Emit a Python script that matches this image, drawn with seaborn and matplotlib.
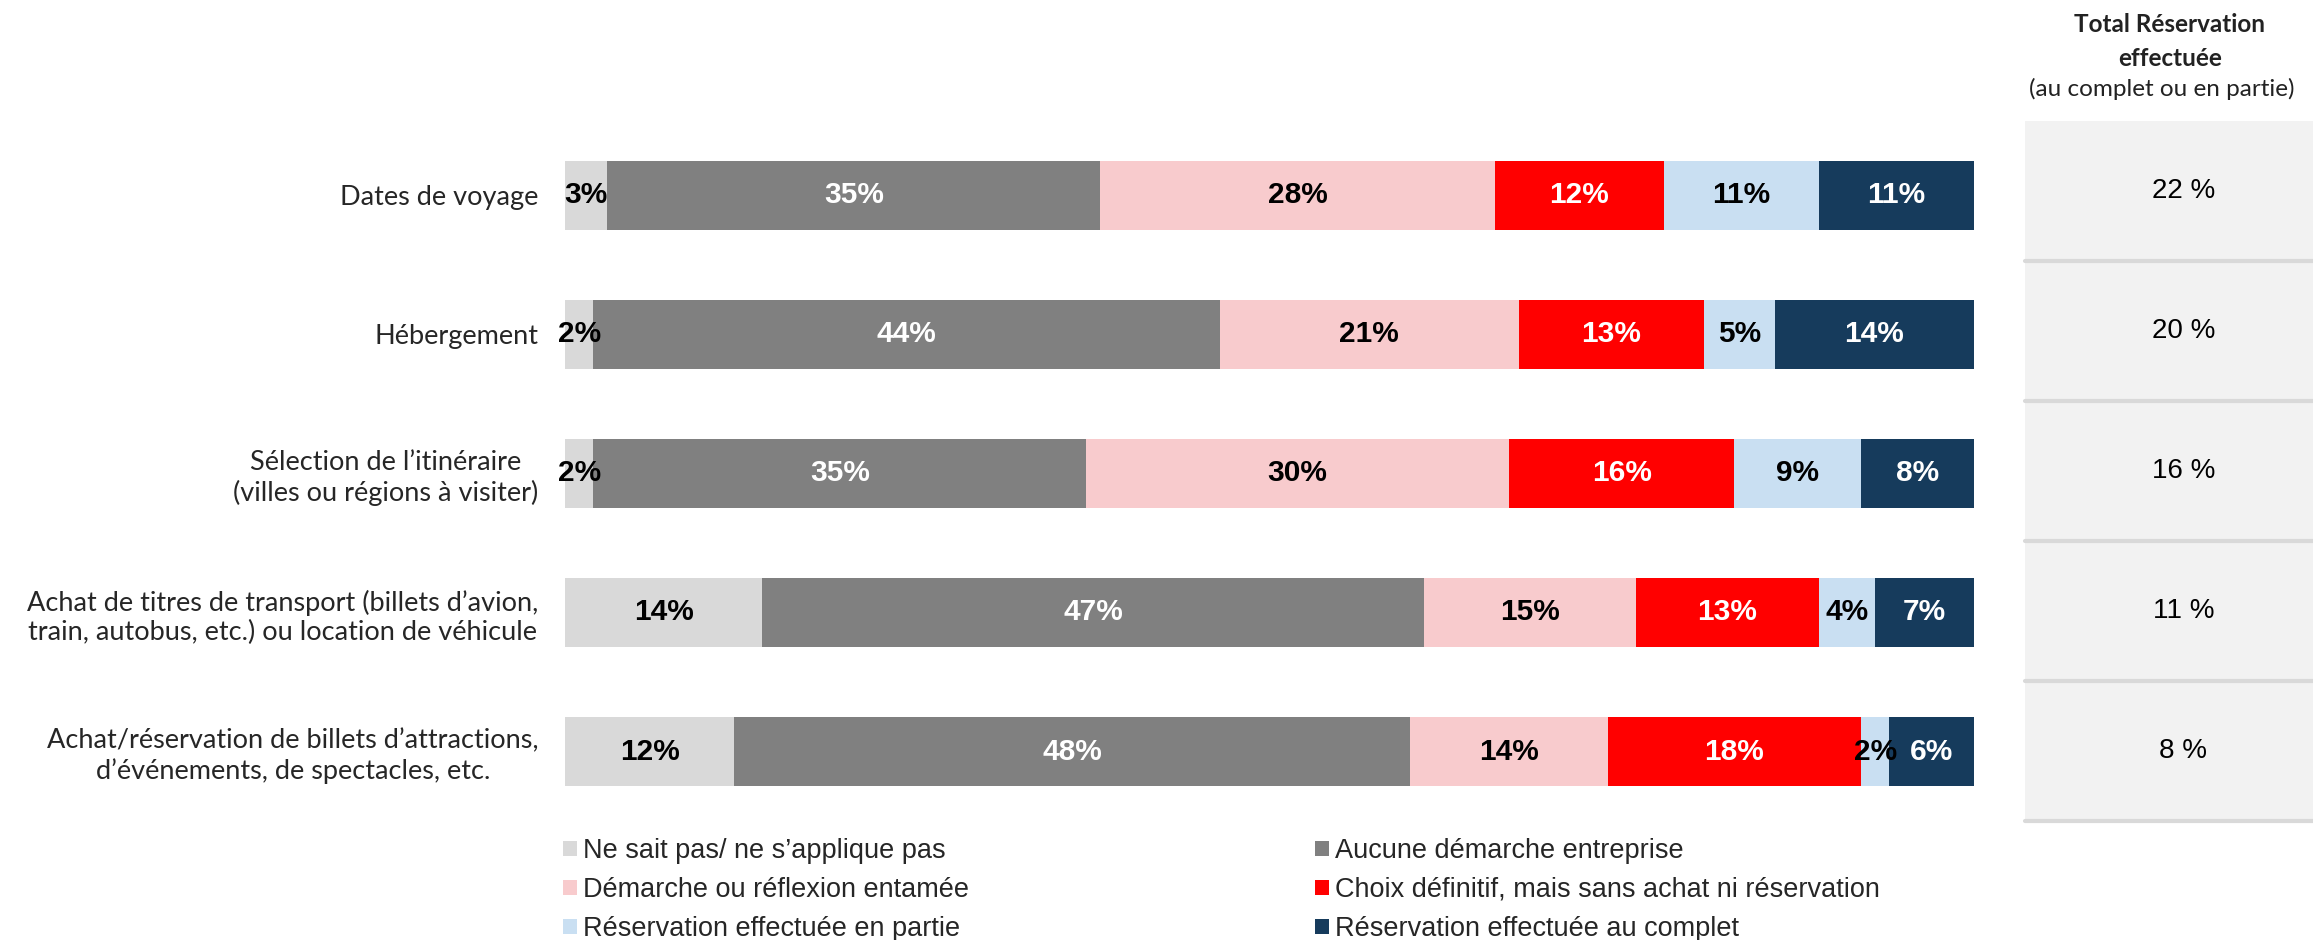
import numpy as np
import pandas as pd
import matplotlib.pyplot as plt
from matplotlib.patches import Patch
import seaborn as sns

# Categories (rows of the stacked bar chart)
categories = [
    "Dates de voyage",
    "Hébergement",
    "Sélection de l’itinéraire\n(villes ou régions à visiter)",
    "Achat de titres de transport (billets d’avion,\ntrain, autobus, etc.) ou location de véhicule",
    "Achat/réservation de billets d’attractions,\nd’événements, de spectacles, etc.",
]

series_names = [
    "Ne sait pas/ ne s’applique pas",
    "Démarche ou réflexion entamée",
    "Réservation effectuée en partie",
    "Aucune démarche entreprise",
    "Choix définitif, mais sans achat ni réservation",
    "Réservation effectuée au complet",
]

# Values (%)
ne_sait_pas = [3, 2, 2, 14, 12]
aucune = [35, 44, 35, 47, 48]
demarche = [28, 21, 30, 15, 14]
choix = [12, 13, 16, 13, 18]
partie = [11, 5, 9, 4, 2]
complet = [11, 14, 8, 7, 6]
total_reservation = [22, 20, 16, 11, 8]

# Stack order from left to right
stack_order = [
    ("Ne sait pas/ ne s’applique pas", ne_sait_pas, "#D9D9D9", "black"),
    ("Aucune démarche entreprise", aucune, "#808080", "white"),
    ("Démarche ou réflexion entamée", demarche, "#F8CBCD", "black"),
    ("Choix définitif, mais sans achat ni réservation", choix, "#FF0000", "white"),
    ("Réservation effectuée en partie", partie, "#C9DFF2", "black"),
    ("Réservation effectuée au complet", complet, "#163B5C", "white"),
]

W, H = 2313, 940
sns.set_style("white")
plt.rcParams["font.family"] = ["Liberation Sans", "DejaVu Sans"]

df = pd.DataFrame({name: vals for name, vals, _, _ in stack_order}, index=categories)
# bars are drawn to full width (rows normalised to 100)
shares = df.div(df.sum(axis=1), axis=0) * 100
cum = shares.cumsum(axis=1)

fig = plt.figure(figsize=(W / 100, H / 100), dpi=100)
ax = fig.add_axes([565 / W, 1 - 821 / H, 1409 / W, 695 / H])

# draw cumulative bars from the right-most segment to the left-most
for name, vals, color, _ in reversed(stack_order):
    sns.barplot(x=cum[name].values, y=categories, color=color, orient="h",
                width=0.5, saturation=1, linewidth=0, ax=ax)

for name, vals, color, tcolor in stack_order:
    centers = cum[name] - shares[name] / 2
    for i, (c, v) in enumerate(zip(centers, vals)):
        ax.text(c, i, f"{v}%", ha="center", va="center", color=tcolor,
                fontsize=21.5, fontweight="bold")

ax.set_xlim(0, 100)
ax.set_ylim(4.5, -0.5)
ax.set_xlabel("")
ax.set_ylabel("")
ax.set_xticks([])
ax.tick_params(axis="y", length=0, pad=19)
for lbl in ax.get_yticklabels():
    lbl.set_family(["Lato", "DejaVu Sans"])
    lbl.set_fontsize(19.5)
    lbl.set_multialignment("center")
sns.despine(ax=ax, left=True, bottom=True)

# Right panel: total reservations
ax2 = fig.add_axes([2025 / W, 1 - 821 / H, 288 / W, 700 / H])
ax2.set_facecolor("#F2F2F2")
ax2.set_xlim(0, 1)
ax2.set_ylim(4.5, -0.5)
for i, v in enumerate(total_reservation):
    ax2.text(0.55, i, f"{v} %", ha="center", va="center", fontsize=20, color="black")
for y in [0.5, 1.5, 2.5, 3.5, 4.5]:
    ax2.axhline(y, color="#D9D9D9", lw=3, clip_on=False)
ax2.set_xticks([])
ax2.set_yticks([])
for s in ax2.spines.values():
    s.set_visible(False)

fig.text(2170 / W, 1 - 25 / H, "Total Réservation", ha="center", va="center",
         fontsize=17.5, fontweight="bold", family=["Lato", "DejaVu Sans"], color="#222222")
fig.text(2170 / W, 1 - 59 / H, "effectuée", ha="center", va="center",
         fontsize=17.5, fontweight="bold", family=["Lato", "DejaVu Sans"], color="#222222")
fig.text(2162 / W, 1 - 89 / H, "(au complet ou en partie)", ha="center", va="center",
         fontsize=17.5, family=["Lato", "DejaVu Sans"], color="#222222")

# Legend: two columns
color_of = {name: color for name, _, color, _ in stack_order}
col1 = series_names[:3]
col2 = series_names[3:]
for names, xpx in [(col1, 563), (col2, 1315)]:
    handles = [Patch(facecolor=color_of[n], edgecolor="none", label=n) for n in names]
    fig.legend(handles=handles, loc="upper left", bbox_to_anchor=(xpx / W, 1 - 838 / H),
               frameon=False, fontsize=19.5, handlelength=0.5, handleheight=0.5,
               handletextpad=0.25, labelspacing=0.48, borderpad=0, borderaxespad=0)

fig.savefig("out.png", dpi=100)
